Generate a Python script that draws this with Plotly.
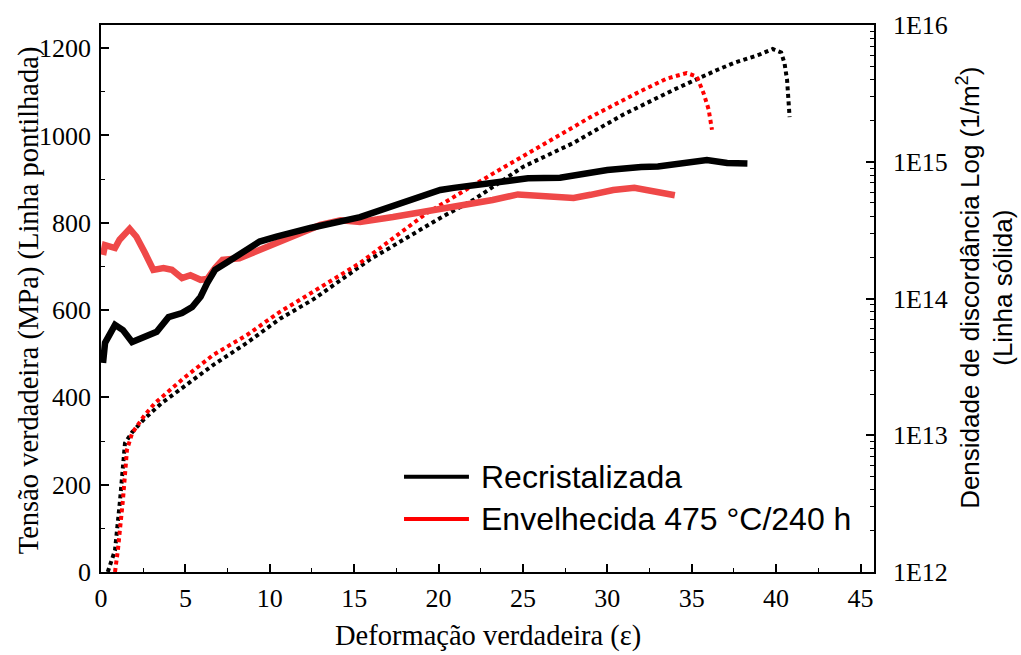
import plotly.graph_objects as go

# ---- Stress (left axis, MPa) - dotted lines ----
strain_rec_stress = [0.4, 0.83, 1.13, 1.42, 1.84, 2.6, 3.6, 4.7, 6.64, 8.65, 10.6, 12.6, 15.9, 20.1,
                     22.05, 25.0, 28.0, 30.9, 33.9, 36.5, 37.5, 39.0, 39.8, 40.3, 40.5, 40.65, 40.8]
stress_rec = [0, 50, 165, 295, 320, 352, 387, 419, 474, 525, 580, 625, 715, 811,
              852, 928, 983, 1047, 1104, 1150, 1166, 1185, 1198, 1190, 1165, 1127, 1042]

strain_env_stress = [0.83, 1.0, 1.3, 1.54, 1.84, 2.6, 3.2, 4.9, 6.64, 8.65, 10.6, 11.6, 15.35, 19.3,
                     23.2, 26.0, 29.0, 31.9, 33.5, 34.7, 35.3, 35.7, 36.0, 36.2]
stress_env = [0, 50, 165, 280, 318, 360, 387, 444, 497, 543, 596, 619, 708, 822,
              912, 974, 1042, 1100, 1130, 1143, 1135, 1097, 1060, 1013]

# ---- Dislocation density (right axis, 1/m^2, log) - solid lines ----
strain_rec_dens = [0.12, 0.24, 0.83, 1.3, 1.84, 2.5, 3.3, 4.0, 4.8, 5.4, 5.9, 6.3, 6.76, 7.5, 8.4,
                   9.4, 10.4, 12.4, 15.35, 18.3, 20.1, 20.9, 23.2, 25.3, 27.2, 29.0, 30.0, 32.0,
                   33.0, 35.9, 37.1, 38.3]
dens_rec = [3.38e13, 4.74e13, 6.41e13, 5.87e13, 4.81e13, 5.21e13, 5.70e13, 7.31e13, 7.82e13, 8.67e13,
            1.03e14, 1.30e14, 1.62e14, 1.85e14, 2.19e14, 2.61e14, 2.83e14, 3.28e14, 3.94e14, 5.25e14,
            6.21e14, 6.44e14, 7.10e14, 7.57e14, 7.63e14, 8.40e14, 8.71e14, 9.17e14, 9.24e14, 1.03e15,
            9.80e14, 9.73e14]

strain_env_dens = [0.12, 0.24, 0.83, 1.1, 1.7, 2.1, 2.6, 3.1, 3.7, 4.2, 4.8, 5.3, 5.9, 6.3, 6.76, 7.2,
                   8.2, 9.2, 10.4, 11.8, 13.0, 14.2, 15.35, 17.3, 20.1, 22.05, 23.2, 24.7, 27.0, 28.0,
                   29.0, 30.35, 31.6, 33.0, 34.0]
dens_env = [2.08e14, 2.46e14, 2.34e14, 2.69e14, 3.23e14, 2.83e14, 2.16e14, 1.62e14, 1.67e14, 1.62e14,
            1.41e14, 1.48e14, 1.37e14, 1.39e14, 1.67e14, 1.92e14, 1.97e14, 2.22e14, 2.52e14, 3.02e14,
            3.45e14, 3.74e14, 3.63e14, 3.94e14, 4.47e14, 4.99e14, 5.25e14, 5.77e14, 5.52e14, 5.44e14,
            5.73e14, 6.21e14, 6.44e14, 6.03e14, 5.69e14]

x_ticks = [0, 5, 10, 15, 20, 25, 30, 35, 40, 45]
y_ticks = [0, 200, 400, 600, 800, 1000, 1200]
y2_ticks = [1e12, 1e13, 1e14, 1e15, 1e16]
y2_labels = ["1E12", "1E13", "1E14", "1E15", "1E16"]
legend_labels = ["Recristalizada", "Envelhecida 475 °C/240 h"]

BLACK = "#000000"
RED_DOT = "#ff0000"
RED_SOLID = "#ef4848"

fig = go.Figure()
fig.add_trace(go.Scatter(x=strain_rec_stress, y=stress_rec, mode="lines",
                         line=dict(color=BLACK, width=4, dash="4px,3.5px"), showlegend=False))
fig.add_trace(go.Scatter(x=strain_env_stress, y=stress_env, mode="lines",
                         line=dict(color=RED_DOT, width=4, dash="4px,3.5px"), showlegend=False))
fig.add_trace(go.Scatter(x=strain_env_dens, y=dens_env, mode="lines", yaxis="y2",
                         line=dict(color=RED_SOLID, width=6.5), showlegend=False))
fig.add_trace(go.Scatter(x=strain_rec_dens, y=dens_rec, mode="lines", yaxis="y2",
                         line=dict(color=BLACK, width=6.5), showlegend=False))

serif = "Liberation Serif"
sans = "Liberation Sans"
tickfont = dict(family=serif, size=26, color="black")

minor_log = [m * 10 ** e for e in range(12, 16) for m in range(2, 10)]

fig.update_layout(
    width=1021, height=655,
    margin=dict(l=101, r=147, t=25, b=83),
    paper_bgcolor="white", plot_bgcolor="white",
    xaxis=dict(range=[0, 45.8], tickvals=x_ticks, ticks="inside", ticklen=8, tickwidth=1.5,
               tickcolor="black", showline=True, linewidth=1.5, linecolor="black", mirror=True,
               showgrid=False, zeroline=False, tickfont=tickfont, ticklabelstandoff=2,
               minor=dict(dtick=2.5, ticks="inside", ticklen=4, tickwidth=1.2, tickcolor="black", showgrid=False)),
    yaxis=dict(range=[0, 1253], tickvals=y_ticks, ticks="inside", ticklen=8, tickwidth=1.5,
               tickcolor="black", showline=True, linewidth=1.5, linecolor="black",
               showgrid=False, zeroline=False, tickfont=tickfont, ticklabelstandoff=3,
               minor=dict(dtick=100, ticks="inside", ticklen=4, tickwidth=1.2, tickcolor="black", showgrid=False)),
    yaxis2=dict(type="log", range=[12, 16], overlaying="y", side="right",
                tickmode="array", tickvals=y2_ticks, ticktext=y2_labels,
                ticks="inside", ticklen=8, tickwidth=1.5, tickcolor="black",
                showline=True, linewidth=1.5, linecolor="black", showgrid=False, zeroline=False,
                tickfont=tickfont, ticklabelstandoff=12,
                minor=dict(tickmode="array", tickvals=minor_log, ticks="inside", ticklen=4,
                           tickwidth=1.2, tickcolor="black", showgrid=False)),
    showlegend=False,
)

# Axis titles
fig.add_annotation(text="Deformação verdadeira (ε)", xref="paper", yref="paper", x=0.5, y=-0.117,
                   showarrow=False, font=dict(family=serif, size=28.5, color="black"),
                   xanchor="center", yanchor="middle")
fig.add_annotation(text="Tensão verdadeira (MPa) (Linha pontilhada)", xref="paper", yref="paper",
                   x=-0.093, y=0.497, textangle=-90, showarrow=False,
                   font=dict(family=serif, size=28.5, color="black"),
                   xanchor="center", yanchor="middle")
fig.add_annotation(text="Densidade de discordância Log (1/m<sup>2</sup>)<br>(Linha sólida)",
                   xref="paper", yref="paper", x=1.144, y=0.52, textangle=-90, showarrow=False,
                   font=dict(family=sans, size=26, color="black"), xanchor="center", yanchor="middle",
                   borderpad=0)

# Manual legend
leg_colors = [BLACK, RED_DOT]
leg_y = [0.174, 0.097]
for lab, col, yy in zip(legend_labels, leg_colors, leg_y):
    fig.add_shape(type="line", xref="paper", yref="paper", x0=0.392, x1=0.476, y0=yy, y1=yy,
                  line=dict(color=col, width=4))
    fig.add_annotation(text=lab, xref="paper", yref="paper", x=0.489, y=yy, showarrow=False,
                       xanchor="left", yanchor="middle", font=dict(family=sans, size=32, color="black"))

fig.write_html("out.html")
